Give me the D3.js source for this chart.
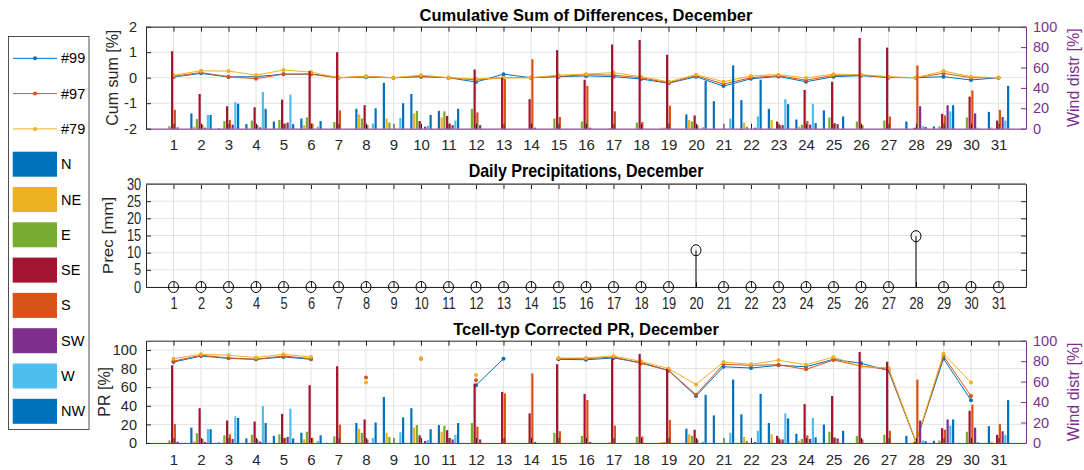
<!DOCTYPE html>
<html>
<head>
<meta charset="utf-8">
<script src="https://cdn.jsdelivr.net/npm/d3@7"></script>
<style>
  body { margin: 0; background: #fff; }
  svg { font-family: "Liberation Sans", Arial, sans-serif; }
</style>
</head>
<body>
<svg id="chart" width="1084" height="470"></svg>
<script>
// days of december
var days = [1,2,3,4,5,6,7,8,9,10,11,12,13,14,15,16,17,18,19,20,21,22,23,24,25,26,27,28,29,30,31];

// wind direction distribution [%], one array per direction
var dirNames = ["N", "NE", "E", "SE", "S", "SW", "W", "NW"];
var windN  = [0,15,0.5,4.5,7,10,0,19.5,45,34,17.5,0,0,0,0,0,0,0,0,14,27,28,19.5,9,18,0,0,7,2.2,0,16.5];
var windNE = [0,2,0,0,0,3.5,0,14,10,15,11,0,0,0,0,0,0,0,1,8.5,0,6,8.5,2,0,0,0,0,0,0,1.3];
var windE  = [2.5,9.5,7.5,8,8.5,11,6.5,10,6,17.5,17,19.5,0,0,10,7,0.5,6,1,7,0,2,0,4,11,7,8,0,2.4,11,0];
var windSE = [76,34,22,21,28.5,56.5,75,23,0,7.5,12.5,58,50,29,77,48,82.5,87,72.5,13,0,0,7,38,46,89,79.5,1,14.5,31.5,8];
var windS  = [18.5,4,8.5,3.5,5,5,18,3.5,0,0,5,16,48.5,68,11.5,42,17,6.5,22.5,3.5,0,0,3.5,7.5,5.5,3.5,12,62,13,37.5,18.5];
var windSW = [1.3,1,4,1.3,6,0,0,0,0,2,3.5,3.5,0,1,0,1,0,0,0,0,0,1,3.5,4,4.5,0,0,22,23,15,11.5];
var windW  = [0,13.5,26,36,33.5,2,0,5,10.5,3,8,0,0,0,0,0,0,0,0,1.3,10,12,29,24.5,0,0,0,2.5,17,1,8];
var windNW = [0,13.5,24.5,19.5,4.5,7.5,0,20,25,13.5,19.5,0,0,0,0,0,0,0,0,47,62,48,24,5.5,12,0,0,1.8,23,0,42];

// cumulative sum of differences [%]
var stationNames = ["#99", "#97", "#79"];
var cum99 = [0.03,0.17,0.03,0.04,0.14,0.14,0,0.02,0,0.04,0,-0.17,0.14,0,0.04,0.07,0.04,-0.05,-0.22,0.04,-0.33,-0.04,0.05,-0.16,0.04,0.08,0.01,0,0.04,-0.09,0];
var cum97 = [0.05,0.2,0.04,-0.04,0.14,0.14,0,0.05,0,0.05,0,-0.09,0,0,0.05,0.12,0.1,0,-0.2,0.08,-0.25,0,0.08,-0.1,0.09,0.1,0.01,0,0.17,0,0];
var cum79 = [0.1,0.27,0.26,0.1,0.3,0.22,0,0.05,0,0.1,0,-0.05,0,0,0.1,0.14,0.2,0.04,-0.16,0.12,-0.16,0.07,0.12,-0.01,0.14,0.12,0.04,0,0.26,0.04,0];

// corrected PR [%] (null = no data)
var pr99 = [87,93.5,91,90,92.5,90,null,null,null,null,null,62,90.7,null,90,89.5,91.4,86.4,78,50.5,82,80.6,83.5,82,90,85.7,77.8,1,90.7,46,null];
var pr97 = [88,94.3,91.4,90,93.5,90.7,null,70.3,null,90.7,null,67.4,null,null,90.7,90.7,92.5,85.7,78,52,84.6,83.5,84.2,79.2,89.2,82.8,79.2,1,93.5,50.5,null];
var pr79 = [90.7,95.3,94.3,92,95.3,92.5,null,65,null,91,null,73,null,null,91.4,91.4,93.5,87.8,80,63,87,84.6,89,84.2,92.5,82,81,1.5,96,65,null];

// daily precipitation [mm]
var precip = [0,0,0,0,0,0,0,0,0,0,0,0,0,0,0,0,0,0,0,10.7,0,0,0,0,0,0,0,14.8,0,0,0];

// tick values
var cumTicks = [-2,-1,0,1,2];
var prTicks = [0,20,40,60,80,100];
var windTicks = [0,20,40,60,80,100];
var precTicks = [0,5,10,15,20,25,30];

// styling
var dirColors = ["#0072BD","#EDB120","#77AC30","#A2142F","#D95319","#7E2F8E","#4DBEEE","#0072BD"];
var stationColors = ["#0072BD","#D95319","#EDB120"];
var axisColor = "#262626";
var purple = "#7E2F8E";
var gridColor = "#e2e2e2";
var font = "Liberation Sans, Arial, sans-serif";
var plain = function(d) { return String(d); };   // matlab style "-1", not "−1.0"

var wind = [windN, windNE, windE, windSE, windS, windSW, windW, windNW];

var svg = d3.select("#chart");

var x = d3.scaleLinear().domain([0, 32]).range([146, 1026]);
// offsets of the 8 grouped bars around each day
var sub = d3.scaleBand().domain(dirNames).range([-0.4, 0.4]).paddingInner(0.2).paddingOuter(0.1);

function styleAxis(sel, color, size) {
  sel.attr("font-size", size).attr("font-family", font).attr("color", color);
}

function xAxes(g, top, bottom, bottomColor, pad, size) {
  g.append("g")
    .attr("transform", "translate(0," + top + ")")
    .call(d3.axisTop(x).tickValues(days).tickSizeInner(-5).tickSizeOuter(0).tickFormat(""))
    .call(styleAxis, axisColor, size);
  var bx = g.append("g")
    .attr("transform", "translate(0," + bottom + ")")
    .call(d3.axisBottom(x).tickValues(days).tickSizeInner(-5).tickSizeOuter(0).tickPadding(pad).tickFormat(plain))
    .call(styleAxis, axisColor, size);
  bx.select(".domain").attr("stroke", bottomColor);
  return bx;
}

function windPanel(top, bottom, yDomain, yTicks, lines, title, ylab) {
  var g = svg.append("g");
  var yL = d3.scaleLinear().domain(yDomain).range([bottom, top]);
  var yR = d3.scaleLinear().domain([0, 100]).range([bottom, top]);

  // grid
  g.append("g").selectAll("line").data(days).join("line")
    .attr("x1", function(d) { return x(d); }).attr("x2", function(d) { return x(d); })
    .attr("y1", top).attr("y2", bottom)
    .attr("stroke", gridColor);
  g.append("g").selectAll("line").data(yTicks).join("line")
    .attr("x1", x(0)).attr("x2", x(32))
    .attr("y1", function(d) { return yL(d); }).attr("y2", function(d) { return yL(d); })
    .attr("stroke", gridColor);

  // station lines on the left axis
  lines.forEach(function(vals, k) {
    var pts = days.map(function(d, j) { return {d: d, v: vals[j]}; });
    var line = d3.line()
      .defined(function(p) { return p.v != null; })
      .x(function(p) { return x(p.d); })
      .y(function(p) { return yL(p.v); });
    g.append("path").datum(pts)
      .attr("d", line)
      .attr("fill", "none")
      .attr("stroke", stationColors[k])
      .attr("stroke-width", 1);
    g.append("g").selectAll("circle").data(pts.filter(function(p) { return p.v != null; })).join("circle")
      .attr("cx", function(p) { return x(p.d); })
      .attr("cy", function(p) { return yL(p.v); })
      .attr("r", 2)
      .attr("fill", stationColors[k]);
  });

  // wind bars on the right axis
  dirNames.forEach(function(dn, i) {
    g.append("g").attr("fill", dirColors[i]).selectAll("rect").data(wind[i]).join("rect")
      .attr("x", function(v, j) { return x(days[j] + sub(dn)); })
      .attr("width", function(v, j) { return x(days[j] + sub(dn) + sub.bandwidth()) - x(days[j] + sub(dn)); })
      .attr("y", function(v) { return yR(v); })
      .attr("height", function(v) { return yR(0) - yR(v); });
  });

  // axes
  xAxes(g, top, bottom, purple, 11, 15);
  g.append("g")
    .attr("transform", "translate(" + x(0) + ",0)")
    .call(d3.axisLeft(yL).tickValues(yTicks).tickSizeInner(-5).tickSizeOuter(0).tickPadding(9).tickFormat(plain))
    .call(styleAxis, axisColor, 14.5);
  g.append("g")
    .attr("transform", "translate(" + x(32) + ",0)")
    .call(d3.axisRight(yR).tickValues(windTicks).tickSizeInner(-5).tickSizeOuter(0).tickPadding(7).tickFormat(plain))
    .call(styleAxis, purple, 14.5);

  // titles
  g.append("text")
    .attr("x", 586).attr("y", top - 12)
    .attr("text-anchor", "middle").attr("dominant-baseline", "central")
    .attr("font-weight", "bold").attr("font-size", 16.5).attr("fill", "#000")
    .text(title);
  g.append("text")
    .attr("transform", "translate(" + (ylab.x) + "," + ((top + bottom) / 2) + ") rotate(-90)")
    .attr("text-anchor", "middle").attr("dominant-baseline", "central")
    .attr("font-size", 16).attr("fill", axisColor)
    .text(ylab.text);
  g.append("text")
    .attr("transform", "translate(1073," + ((top + bottom) / 2) + ") rotate(-90)")
    .attr("text-anchor", "middle").attr("dominant-baseline", "central")
    .attr("font-size", 16).attr("fill", purple)
    .text("Wind distr [%]");
}

function precipPanel(top, bottom) {
  var g = svg.append("g");
  var y = d3.scaleLinear().domain([0, 30]).range([bottom, top]);
  var squeeze = "scale(0.8,1)";

  g.append("g").selectAll("line").data(days).join("line")
    .attr("x1", function(d) { return x(d); }).attr("x2", function(d) { return x(d); })
    .attr("y1", top).attr("y2", bottom)
    .attr("stroke", gridColor);
  g.append("g").selectAll("line").data(precTicks).join("line")
    .attr("x1", x(0)).attr("x2", x(32))
    .attr("y1", function(d) { return y(d); }).attr("y2", function(d) { return y(d); })
    .attr("stroke", gridColor);

  var bx = xAxes(g, top, bottom, axisColor, 11, 16);
  bx.selectAll("text").attr("transform", squeeze);
  var ly = g.append("g")
    .attr("transform", "translate(" + x(0) + ",0)")
    .call(d3.axisLeft(y).tickValues(precTicks).tickSizeInner(-5).tickSizeOuter(0).tickPadding(6).tickFormat(plain))
    .call(styleAxis, axisColor, 16);
  ly.selectAll("text").attr("transform", squeeze);
  g.append("g")
    .attr("transform", "translate(" + x(32) + ",0)")
    .call(d3.axisRight(y).tickValues(precTicks).tickSizeInner(-5).tickSizeOuter(0).tickFormat(""))
    .call(styleAxis, axisColor, 14);
  g.append("line")
    .attr("x1", x(0)).attr("x2", x(32)).attr("y1", top).attr("y2", top)
    .attr("stroke", "#777").attr("stroke-width", 1.6);

  // stems
  g.append("g").selectAll("line").data(precip).join("line")
    .attr("x1", function(v, j) { return x(days[j]); })
    .attr("x2", function(v, j) { return x(days[j]); })
    .attr("y1", y(0))
    .attr("y2", function(v) { return y(v); })
    .attr("stroke", "#000");
  g.append("g").selectAll("ellipse").data(precip).join("ellipse")
    .attr("cx", function(v, j) { return x(days[j]); })
    .attr("cy", function(v) { return y(v); })
    .attr("rx", 5).attr("ry", 5.5)
    .attr("fill", "none").attr("stroke", "#000");

  g.append("text")
    .attr("transform", "translate(586," + (top - 13) + ") scale(0.89,1)")
    .attr("text-anchor", "middle").attr("dominant-baseline", "central")
    .attr("font-weight", "bold").attr("font-size", 18).attr("fill", "#000")
    .text("Daily Precipitations, December");
  g.append("text")
    .attr("transform", "translate(108," + ((top + bottom) / 2) + ") rotate(-90) scale(1,0.86)")
    .attr("text-anchor", "middle").attr("dominant-baseline", "central")
    .attr("font-size", 17).attr("fill", axisColor)
    .text("Prec [mm]");
}

windPanel(26.7, 128.7, [-2, 2], cumTicks, [cum99, cum97, cum79],
  "Cumulative Sum of Differences, December", {x: 112, text: "Cum sum [%]"});
precipPanel(184, 287);
windPanel(340.7, 443, [0, 110], prTicks, [pr99, pr97, pr79],
  "Tcell-typ Corrected PR, December", {x: 104, text: "PR [%]"});

// legend
var leg = svg.append("g");
var legY0 = 58.3, legStep = 35.3;
leg.append("rect")
  .attr("x", 8.5).attr("y", 36.5).attr("width", 80.5).attr("height", 393)
  .attr("fill", "#fff").attr("stroke", axisColor).attr("stroke-width", 0.8);
stationNames.forEach(function(name, k) {
  var yy = legY0 + k * legStep;
  leg.append("line").attr("x1", 13).attr("x2", 57).attr("y1", yy).attr("y2", yy)
    .attr("stroke", stationColors[k]).attr("stroke-width", 1);
  leg.append("circle").attr("cx", 35).attr("cy", yy).attr("r", 2).attr("fill", stationColors[k]);
  leg.append("text").attr("x", 61).attr("y", yy).attr("dominant-baseline", "central")
    .attr("font-size", 14.5).attr("fill", "#000").text(name);
});
dirNames.forEach(function(name, i) {
  var yy = legY0 + (i + 3) * legStep;
  leg.append("rect").attr("x", 12.7).attr("y", yy - 12.5).attr("width", 44.3).attr("height", 25)
    .attr("fill", dirColors[i]);
  leg.append("text").attr("x", 61).attr("y", yy).attr("dominant-baseline", "central")
    .attr("font-size", 14.5).attr("fill", "#000").text(name);
});
</script>
</body>
</html>
